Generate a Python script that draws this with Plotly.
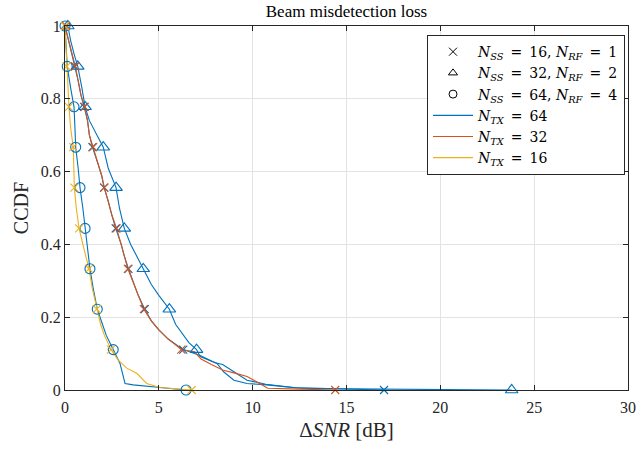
import plotly.graph_objects as go

# ---------------- data ----------------
# N_TX = 64, N_SS = 32, N_RF = 2  (blue, triangles)
tri64_x = [0.15, 0.3, 0.5, 0.68, 0.9, 1.07, 1.3, 1.6, 2.04, 2.3, 2.72, 2.9, 3.16, 3.5, 3.8, 4.17,
           4.6, 5.0, 5.56, 5.9, 6.3, 6.6, 7.01, 7.2, 8.1, 8.45, 9.0, 9.7, 10.75, 12.5, 15.0, 20.0, 23.8]
tri64_y = [1.0, 0.96, 0.92, 0.889, 0.83, 0.778, 0.74, 0.71, 0.667, 0.61, 0.556, 0.50, 0.444, 0.40,
           0.37, 0.333, 0.29, 0.26, 0.222, 0.18, 0.15, 0.13, 0.111, 0.092, 0.073, 0.05, 0.027, 0.018,
           0.014, 0.005, 0.003, 0.001, 0.0]
tri64_mx = [0.15, 0.68, 1.07, 2.04, 2.72, 3.16, 4.17, 5.56, 7.01, 23.8]

# N_TX = 64, N_SS = 16, N_RF = 1  (blue, crosses)
x64_x = [0.0, 0.2, 0.4, 0.52, 0.7, 0.85, 1.02, 1.2, 1.3, 1.46, 1.7, 1.95, 2.08, 2.3, 2.5, 2.7, 3.0,
         3.15, 3.38, 3.6, 3.9, 4.25, 4.6, 5.0, 5.5, 6.3, 7.2, 8.0, 8.4, 9.0, 9.7, 10.7, 12.2, 14.0, 17.0]
x64_y = [1.0, 0.96, 0.92, 0.889, 0.85, 0.81, 0.778, 0.74, 0.70, 0.667, 0.63, 0.59, 0.556, 0.52, 0.48,
         0.444, 0.40, 0.37, 0.333, 0.30, 0.26, 0.222, 0.19, 0.165, 0.14, 0.111, 0.095, 0.075, 0.07,
         0.05, 0.027, 0.016, 0.007, 0.004, 0.0]
x64_mx = [0.05, 0.52, 1.02, 1.46, 2.08, 2.7, 3.38, 4.25, 6.3, 17.0]

# N_TX = 64, N_SS = 64, N_RF = 4  (blue, circles)
c64_x = [0.0, 0.05, 0.12, 0.3, 0.48, 0.53, 0.57, 0.7, 0.8, 0.95, 1.07, 1.2, 1.33, 1.5, 1.72, 2.0,
         2.2, 2.57, 2.93, 3.2, 3.64, 5.06, 6.45]
c64_y = [1.0, 0.95, 0.889, 0.83, 0.778, 0.72, 0.667, 0.61, 0.556, 0.50, 0.444, 0.39, 0.333, 0.28,
         0.222, 0.18, 0.15, 0.111, 0.073, 0.018, 0.014, 0.007, 0.0]
c64_mx = [0.0, 0.12, 0.48, 0.57, 0.8, 1.07, 1.33, 1.72, 2.57, 6.45]

# N_TX = 32, N_SS = 16, N_RF = 1  (red, crosses)
x32_x = [0.0, 0.2, 0.4, 0.55, 0.7, 0.85, 1.05, 1.2, 1.3, 1.5, 1.7, 1.95, 2.1, 2.3, 2.5, 2.75, 3.0,
         3.15, 3.35, 3.6, 3.9, 4.2, 4.6, 5.0, 5.5, 6.2, 6.9, 7.25, 7.8, 8.4, 9.0, 9.7, 10.3, 10.8, 12.0, 14.4]
x32_y = [1.0, 0.96, 0.92, 0.889, 0.85, 0.81, 0.778, 0.74, 0.70, 0.667, 0.63, 0.59, 0.556, 0.52, 0.48,
         0.444, 0.40, 0.37, 0.333, 0.30, 0.26, 0.222, 0.19, 0.165, 0.14, 0.111, 0.105, 0.085, 0.07,
         0.055, 0.047, 0.037, 0.02, 0.005, 0.003, 0.0]
x32_mx = [0.05, 0.55, 1.05, 1.5, 2.1, 2.75, 3.35, 4.2, 6.2, 14.4]

# N_TX = 16, N_SS = 16, N_RF = 1  (yellow, crosses)
x16_x = [0.0, 0.05, 0.09, 0.15, 0.21, 0.3, 0.44, 0.47, 0.5, 0.6, 0.75, 1.0, 1.28, 1.45, 1.69, 1.9,
         2.1, 2.45, 2.84, 3.29, 3.82, 4.35, 5.06, 6.75]
x16_y = [1.0, 0.95, 0.889, 0.83, 0.778, 0.72, 0.667, 0.61, 0.556, 0.50, 0.444, 0.39, 0.333, 0.28,
         0.222, 0.18, 0.15, 0.111, 0.082, 0.06, 0.046, 0.018, 0.007, 0.0]
x16_mx = [0.0, 0.09, 0.21, 0.44, 0.5, 0.75, 1.28, 1.69, 2.45, 6.75]

marker_y = [1.0, 0.889, 0.778, 0.667, 0.556, 0.444, 0.333, 0.222, 0.111, 0.0]

SP = "\u2002"  # en space, to mimic TeX math spacing around '='
legend_markers = [f"<i>N</i><sub><i>SS</i></sub>{SP}={SP}16, <i>N</i><sub><i>RF</i></sub>{SP}={SP}1",
                  f"<i>N</i><sub><i>SS</i></sub>{SP}={SP}32, <i>N</i><sub><i>RF</i></sub>{SP}={SP}2",
                  f"<i>N</i><sub><i>SS</i></sub>{SP}={SP}64, <i>N</i><sub><i>RF</i></sub>{SP}={SP}4"]
legend_lines = [f"<i>N</i><sub><i>TX</i></sub>{SP}={SP}64",
                f"<i>N</i><sub><i>TX</i></sub>{SP}={SP}32",
                f"<i>N</i><sub><i>TX</i></sub>{SP}={SP}16"]

x_ticks = [0, 5, 10, 15, 20, 25, 30]
y_ticks = [0, 0.2, 0.4, 0.6, 0.8, 1]

# ---------------- styling ----------------
BLUE = "#0072BD"
RED = "#D95319"
YELLOW = "#EDB120"
AX = "#262626"
FONT = "Liberation Serif"

fig = go.Figure()

# legend-only entries
sym = ["x-thin-open", "triangle-up-open", "circle-open"]
for name, s in zip(legend_markers, sym):
    fig.add_trace(go.Scatter(x=[None], y=[None], mode="markers", name=name,
                             marker=dict(symbol=s, size=8, color="black",
                                         line=dict(width=1, color="black"))))
for name, c in zip(legend_lines, [BLUE, RED, YELLOW]):
    fig.add_trace(go.Scatter(x=[None], y=[None], mode="lines", name=name,
                             line=dict(color=c, width=1.2)))

curves = [
    (tri64_x, tri64_y, tri64_mx, BLUE, "triangle-up-open", 11),
    (x64_x, x64_y, x64_mx, BLUE, "x-thin-open", 8),
    (c64_x, c64_y, c64_mx, BLUE, "circle-open", 10),
    (x32_x, x32_y, x32_mx, RED, "x-thin-open", 8),
    (x16_x, x16_y, x16_mx, YELLOW, "x-thin-open", 8),
]
for cx, cy, mx, col, s, sz in curves:
    fig.add_trace(go.Scatter(x=cx, y=cy, mode="lines", showlegend=False,
                             line=dict(color=col, width=1.1), cliponaxis=False))
for cx, cy, mx, col, s, sz in curves:
    fig.add_trace(go.Scatter(x=mx, y=marker_y, mode="markers", showlegend=False,
                             marker=dict(symbol=s, size=sz, color=col,
                                         line=dict(width=1.1, color=col)),
                             cliponaxis=False))

axis_common = dict(showline=True, linecolor=AX, linewidth=1, mirror="ticks",
                   ticks="inside", ticklen=5, tickcolor=AX, tickwidth=1,
                   showgrid=True, gridcolor="#E3E3E3", gridwidth=1, zeroline=False,
                   automargin=False,
                   tickfont=dict(family=FONT, size=16, color=AX))

fig.update_xaxes(range=[0, 30], tickvals=x_ticks, ticktext=[str(v) for v in x_ticks],
                 ticklabelstandoff=3,
                 title=dict(text="Δ<i>SNR</i> [dB]", font=dict(family=FONT, size=21, color=AX),
                            standoff=7),
                 **axis_common)
fig.update_yaxes(range=[0, 1], tickvals=y_ticks, ticktext=["0", "0.2", "0.4", "0.6", "0.8", "1"],
                 title=dict(text="CCDF", font=dict(family=FONT, size=20, color=AX), standoff=6),
                 **axis_common)

fig.update_layout(
    width=643, height=449,
    margin=dict(l=65, r=15, t=26, b=59),
    paper_bgcolor="white", plot_bgcolor="white",
    title=dict(text="Beam misdetection loss", x=(65 + 628) / 2 / 643, xanchor="center",
               y=1 - 11 / 449, yanchor="middle", font=dict(family=FONT, size=17, color="black")),
    legend=dict(x=0.9947, xanchor="right", y=0.975, yanchor="top",
                bgcolor="white", bordercolor=AX, borderwidth=1,
                font=dict(family="DejaVu Serif", size=14, color="black"),
                itemwidth=40, tracegroupgap=0),
    font=dict(family=FONT),
)

fig.write_html("out.html")
